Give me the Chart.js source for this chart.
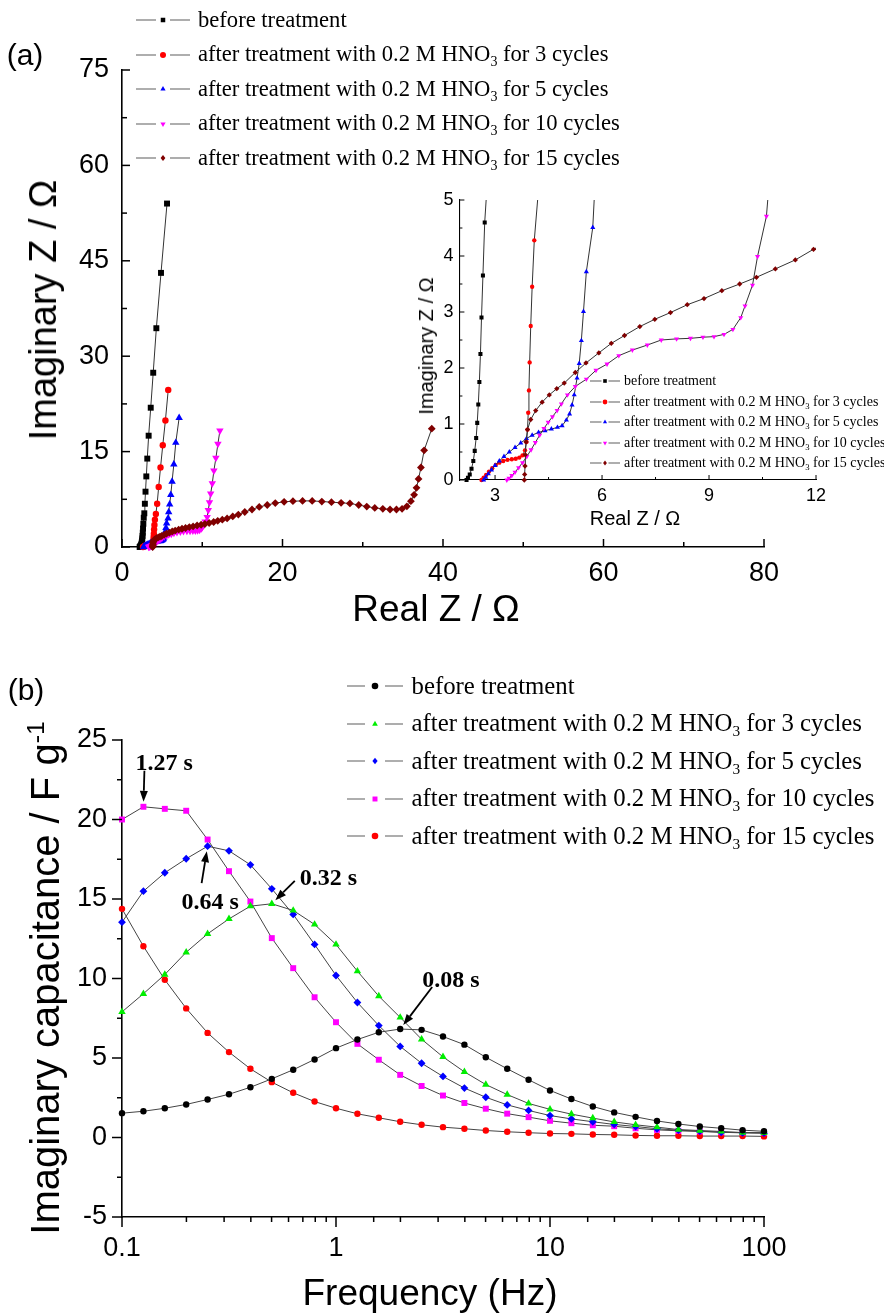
<!DOCTYPE html>
<html>
<head>
<meta charset="utf-8">
<title>HNO3 treatment: Nyquist plots and imaginary capacitance</title>
<script src="https://cdn.jsdelivr.net/npm/chart.js@4.4.1/dist/chart.umd.min.js"></script>
<style>
  html, body { margin: 0; padding: 0; background: #fff; }
  #page { position: relative; width: 884px; height: 1314px; overflow: hidden; background: #fff; }
  #page canvas { position: absolute; }
  .txt { position: absolute; white-space: nowrap; color: #000; line-height: 1; }
  .sans { font-family: "Liberation Sans", Arial, sans-serif; }
  .c { transform: translate(-50%, -50%); }
  .r { transform: translate(-50%, -50%) rotate(-90deg); }
  .lg { position: absolute; display: flex; align-items: center; white-space: nowrap;
        font-family: "Liberation Serif", "Times New Roman", serif; color: #000; line-height: 1; }
  .lg svg { flex: none; display: block; }
  sub { font-size: 0.62em; vertical-align: -0.34em; line-height: 0; }
  sup { font-size: 0.62em; vertical-align: 0.6em; line-height: 0; }
</style>
</head>
<body>
<div id="page">
  <canvas id="nyquist" width="884" height="650" style="left:0;top:0;width:884px;height:650px"></canvas>
  <canvas id="nyquistZoom" width="504" height="360" style="left:380px;top:180px;width:504px;height:360px"></canvas>
  <canvas id="capacitance" width="884" height="664" style="left:0;top:650px;width:884px;height:664px"></canvas>

  <div class="txt sans c" style="left:25px;top:55px;font-size:30px">(a)</div>
  <div class="txt sans r" style="left:43px;top:310px;font-size:38px">Imaginary Z / &#937;</div>
  <div class="txt sans c" style="left:436px;top:608px;font-size:37px">Real Z / &#937;</div>
  <div class="txt sans r" style="left:426px;top:346px;font-size:20px">Imaginary Z / &#937;</div>
  <div class="txt sans c" style="left:635px;top:518px;font-size:20px">Real Z / &#937;</div>

  <div class="txt sans c" style="left:26px;top:690px;font-size:30px">(b)</div>
  <div class="txt sans r" style="left:45px;top:978px;font-size:40px">Imaginary capacitance / F g<sup>-1</sup></div>
  <div class="txt sans c" style="left:430px;top:1292px;font-size:37px">Frequency (Hz)</div>
</div>

<script>
// ---------- Panel (a): Nyquist plots (Real Z / Ohm, Imaginary Z / Ohm) ----------
const labelsA = [
  'before treatment',
  'after treatment with 0.2 M HNO3 for 3 cycles',
  'after treatment with 0.2 M HNO3 for 5 cycles',
  'after treatment with 0.2 M HNO3 for 10 cycles',
  'after treatment with 0.2 M HNO3 for 15 cycles'
];

const realZ_before = [2.20, 2.24, 2.29, 2.34, 2.39, 2.43, 2.47, 2.50, 2.53, 2.56, 2.59, 2.62, 2.66, 2.71, 2.78, 2.85, 2.93, 3.03, 3.15, 3.32, 3.58, 3.89, 4.28, 4.86, 5.61];
const imagZ_before = [0.00, 0.04, 0.10, 0.20, 0.34, 0.52, 0.75, 1.02, 1.35, 1.75, 2.25, 2.90, 3.65, 4.60, 5.30, 6.80, 8.70, 11.1, 13.9, 17.5, 21.9, 27.4, 34.4, 43.1, 54.0];

const realZ_3cyc = [2.62, 2.68, 2.75, 2.83, 2.92, 3.02, 3.12, 3.23, 3.35, 3.47, 3.58, 3.68, 3.77, 3.84, 3.88, 3.91, 3.93, 3.95, 3.97, 4.00, 4.04, 4.10, 4.22, 4.38, 4.57, 4.80, 5.08, 5.41, 5.76];
const imagZ_3cyc = [0.00, 0.04, 0.09, 0.15, 0.21, 0.27, 0.31, 0.34, 0.36, 0.37, 0.38, 0.40, 0.44, 0.53, 0.68, 0.90, 1.20, 1.60, 2.10, 2.75, 3.45, 4.28, 5.20, 6.80, 9.45, 12.5, 16.0, 19.9, 24.7];

const realZ_5cyc = [2.68, 2.74, 2.81, 2.90, 3.00, 3.12, 3.25, 3.40, 3.56, 3.72, 3.88, 4.04, 4.22, 4.40, 4.58, 4.75, 4.88, 5.00, 5.09, 5.16, 5.22, 5.30, 5.36, 5.42, 5.48, 5.56, 5.74, 5.82, 5.94, 6.08, 6.24, 6.46, 6.70, 7.12];
const imagZ_5cyc = [0.00, 0.05, 0.11, 0.18, 0.26, 0.34, 0.42, 0.50, 0.58, 0.66, 0.74, 0.80, 0.85, 0.88, 0.91, 0.94, 0.97, 1.07, 1.18, 1.34, 1.52, 1.82, 2.08, 2.49, 3.01, 3.72, 4.51, 5.50, 6.70, 8.20, 10.3, 13.0, 16.4, 20.3];

const realZ_10cyc = [3.33, 3.39, 3.47, 3.56, 3.66, 3.77, 3.89, 4.01, 4.13, 4.25, 4.37, 4.49, 4.61, 4.74, 4.86, 5.03, 5.25, 5.56, 5.83, 6.14, 6.47, 6.85, 7.27, 7.66, 8.09, 8.48, 8.83, 9.14, 9.42, 9.67, 9.89, 10.01, 10.22, 10.36, 10.61, 10.75, 10.90, 11.05, 11.25, 11.45, 11.70, 11.95, 12.20];
const imagZ_10cyc = [0.00, 0.03, 0.08, 0.14, 0.22, 0.31, 0.42, 0.54, 0.67, 0.80, 0.92, 1.03, 1.13, 1.24, 1.36, 1.52, 1.67, 1.80, 1.96, 2.07, 2.22, 2.32, 2.41, 2.50, 2.52, 2.53, 2.55, 2.56, 2.60, 2.69, 2.90, 3.11, 3.48, 3.99, 4.71, 5.80, 7.00, 8.40, 10.0, 12.0, 14.0, 16.2, 18.3];

const realZ_15cyc = [3.82, 3.83, 3.84, 3.85, 3.87, 3.91, 4.00, 4.14, 4.32, 4.52, 4.73, 4.94, 5.25, 5.55, 5.91, 6.26, 6.63, 7.06, 7.48, 7.92, 8.39, 8.86, 9.36, 9.86, 10.33, 10.86, 11.42, 11.93, 12.50, 13.10, 13.80, 14.50, 15.30, 16.20, 17.10, 18.10, 19.10, 20.20, 21.30, 22.50, 23.70, 24.90, 26.10, 27.30, 28.40, 29.50, 30.50, 31.50, 32.50, 33.40, 34.20, 34.90, 35.50, 36.00, 36.40, 36.70, 36.95, 37.25, 37.65, 38.60];
const imagZ_15cyc = [0.00, 0.10, 0.25, 0.45, 0.68, 0.90, 1.08, 1.24, 1.39, 1.52, 1.63, 1.73, 1.92, 2.09, 2.27, 2.44, 2.58, 2.74, 2.87, 2.99, 3.13, 3.24, 3.38, 3.50, 3.62, 3.77, 3.93, 4.12, 4.30, 4.50, 4.80, 5.10, 5.50, 5.90, 6.30, 6.60, 6.90, 7.10, 7.20, 7.25, 7.25, 7.15, 7.05, 6.95, 6.85, 6.60, 6.35, 6.15, 6.00, 5.90, 5.90, 6.00, 6.40, 7.20, 8.20, 9.30, 10.7, 12.5, 15.2, 18.6];

const nyquistXTicks = [0, 20, 40, 60, 80];
const nyquistYTicks = [0, 15, 30, 45, 60, 75];
const zoomXTicks = [3, 6, 9, 12];
const zoomYTicks = [0, 1, 2, 3, 4, 5];

// ---------- Panel (b): imaginary capacitance vs frequency ----------
const labelsB = [
  'before treatment',
  'after treatment with 0.2 M HNO3 for 3 cycles',
  'after treatment with 0.2 M HNO3 for 5 cycles',
  'after treatment with 0.2 M HNO3 for 10 cycles',
  'after treatment with 0.2 M HNO3 for 15 cycles'
];
const freqHz = [0.1, 0.1259, 0.1585, 0.1995, 0.2512, 0.3162, 0.3981, 0.5012, 0.6310, 0.7943, 1, 1.259, 1.585, 1.995, 2.512, 3.162, 3.981, 5.012, 6.310, 7.943, 10, 12.59, 15.85, 19.95, 25.12, 31.62, 39.81, 50.12, 63.10, 79.43, 100];
const capBefore = [1.53, 1.65, 1.84, 2.08, 2.39, 2.72, 3.16, 3.69, 4.26, 4.91, 5.62, 6.16, 6.62, 6.82, 6.77, 6.35, 5.84, 5.05, 4.32, 3.63, 2.96, 2.42, 1.95, 1.58, 1.30, 1.04, 0.85, 0.69, 0.58, 0.46, 0.39];
const cap3cyc = [7.90, 9.04, 10.25, 11.65, 12.81, 13.75, 14.55, 14.70, 14.28, 13.40, 12.14, 10.46, 8.89, 7.55, 6.18, 5.07, 4.13, 3.33, 2.70, 2.14, 1.77, 1.47, 1.22, 0.98, 0.80, 0.65, 0.50, 0.44, 0.38, 0.31, 0.29];
const cap5cyc = [13.54, 15.49, 16.65, 17.53, 18.32, 18.03, 17.15, 15.64, 14.03, 12.14, 10.19, 8.49, 7.04, 5.73, 4.67, 3.84, 3.11, 2.53, 2.05, 1.70, 1.38, 1.17, 0.99, 0.82, 0.69, 0.55, 0.46, 0.40, 0.33, 0.29, 0.27];
const cap10cyc = [20.00, 20.80, 20.67, 20.55, 18.74, 16.75, 14.84, 12.54, 10.65, 8.82, 7.25, 5.89, 4.89, 3.94, 3.24, 2.64, 2.17, 1.81, 1.50, 1.28, 1.05, 0.90, 0.77, 0.71, 0.58, 0.48, 0.42, 0.38, 0.33, 0.31, 0.30];
const cap15cyc = [14.38, 12.03, 9.92, 8.12, 6.58, 5.37, 4.32, 3.48, 2.81, 2.26, 1.84, 1.49, 1.24, 0.99, 0.80, 0.65, 0.55, 0.44, 0.36, 0.30, 0.25, 0.23, 0.19, 0.17, 0.13, 0.11, 0.11, 0.09, 0.09, 0.09, 0.07];
const capYTicks = [-5, 0, 5, 10, 15, 20, 25];

// relaxation-time labels and the peak each arrow points at
const tauLabels = ['1.27 s', '0.64 s', '0.32 s', '0.08 s'];
const tauSeries = [3, 2, 1, 0];
const tauPeakIndex = [1, 4, 7, 13];

// ---------- drawing ----------
Chart.defaults.font.family = '"Liberation Sans", Arial, sans-serif';
Chart.defaults.color = '#000';

const SANS = '"Liberation Sans", Arial, sans-serif';
const LINE = '#333333';

const styleA = [
  { color: '#000000', shape: 'rect' },
  { color: '#ff0000', shape: 'circle' },
  { color: '#0000ff', shape: 'triangle' },
  { color: '#ff00ff', shape: 'triangleDown' },
  { color: '#800000', shape: 'rectRot' }
];
const styleB = [
  { color: '#000000', shape: 'circle' },
  { color: '#00ee00', shape: 'triangle' },
  { color: '#0000ff', shape: 'rectRot' },
  { color: '#ff00ff', shape: 'rect' },
  { color: '#ff0000', shape: 'circle' }
];

const seriesA = [
  [realZ_before, imagZ_before],
  [realZ_3cyc, imagZ_3cyc],
  [realZ_5cyc, imagZ_5cyc],
  [realZ_10cyc, imagZ_10cyc],
  [realZ_15cyc, imagZ_15cyc]
];
const seriesB = [capBefore, cap3cyc, cap5cyc, cap10cyc, cap15cyc];

function markerRadius(shape, k) {
  const base = { rect: 4.2, circle: 3.2, triangle: 4.3, triangleDown: 4.3, rectRot: 3.9 };
  return base[shape] * k;
}

function pointProps(st, k) {
  return {
    pointStyle: st.shape === 'triangleDown' ? 'triangle' : st.shape,
    pointRotation: st.shape === 'triangleDown' ? 180 : 0,
    pointRadius: markerRadius(st.shape, k),
    pointBackgroundColor: st.color,
    pointBorderColor: st.color,
    pointBorderWidth: 0,
    pointHoverRadius: markerRadius(st.shape, k)
  };
}

function nyquistDatasets(k) {
  return seriesA.map((s, i) => Object.assign({
    label: labelsA[i],
    data: s[0].map((x, j) => ({ x: x, y: s[1][j] })),
    showLine: true,
    borderColor: LINE,
    borderWidth: 1,
    order: 4 - i
  }, pointProps(styleA[i], k)));
}

// tick marks (major at scale ticks, minor between them), drawn in or out of the plot
const tickMarks = {
  id: 'tickMarks',
  afterDraw(chart, args, o) {
    const ctx = chart.ctx;
    const area = chart.chartArea;
    ctx.save();
    ctx.strokeStyle = '#000';
    ctx.lineWidth = o.width;
    Object.keys(o.axes).forEach(id => {
      const a = o.axes[id];
      const s = chart.scales[id];
      const sign = a.inward ? -1 : 1;
      const marks = [];
      const vals = s.ticks.map(t => t.value);
      if (s.type === 'logarithmic') {
        vals.forEach(v => {
          const e = Math.log10(v);
          marks.push([v, Math.abs(e - Math.round(e)) < 1e-6]);
        });
      } else {
        vals.forEach((v, i) => {
          marks.push([v, true]);
          if (i < vals.length - 1) marks.push([(v + vals[i + 1]) / 2, false]);
        });
      }
      marks.forEach(([v, major]) => {
        const p = s.getPixelForValue(v);
        const len = major ? a.len : a.minorLen;
        ctx.beginPath();
        if (s.isHorizontal()) {
          ctx.moveTo(p, area.bottom);
          ctx.lineTo(p, area.bottom + sign * len);
        } else {
          ctx.moveTo(area.left, p);
          ctx.lineTo(area.left - sign * len, p);
        }
        ctx.stroke();
      });
    });
    ctx.restore();
  }
};

function linearAxis(min, max, ticksArr, font, pad, fitKey, fitVal, borderW) {
  return {
    type: 'linear', min: min, max: max,
    afterBuildTicks: s => { s.ticks = ticksArr.map(v => ({ value: v })); },
    ticks: { font: { family: SANS, size: font }, color: '#000', padding: pad, autoSkip: false, maxRotation: 0 },
    grid: { display: true, drawOnChartArea: false, drawTicks: false },
    border: { display: true, color: '#000', width: borderW },
    afterFit: s => { s[fitKey] = fitVal; }
  };
}

// main Nyquist plot
new Chart(document.getElementById('nyquist'), {
  type: 'scatter',
  data: { datasets: nyquistDatasets(1) },
  options: {
    responsive: false, animation: false, devicePixelRatio: 1,
    layout: { padding: { left: 0, top: 70, right: 120, bottom: 0 } },
    datasets: { scatter: { clip: false } },
    plugins: {
      legend: { display: false }, tooltip: { enabled: false },
      tickMarks: { width: 1.5, axes: { x: { inward: true, len: 8, minorLen: 5 }, y: { inward: true, len: 8, minorLen: 5 } } }
    },
    scales: {
      x: linearAxis(0, 80, nyquistXTicks, 27, 10, 'height', 103, 1.6),
      y: linearAxis(0, 75, nyquistYTicks, 27, 13, 'width', 122, 1.6)
    }
  },
  plugins: [tickMarks]
});

// high-frequency region of the same data
new Chart(document.getElementById('nyquistZoom'), {
  type: 'scatter',
  data: { datasets: nyquistDatasets(0.68) },
  options: {
    responsive: false, animation: false, devicePixelRatio: 1,
    layout: { padding: { left: 0, top: 20, right: 68, bottom: 0 } },
    datasets: { scatter: { clip: { left: 0, top: 0, right: 0, bottom: 4 } } },
    plugins: {
      legend: { display: false }, tooltip: { enabled: false },
      tickMarks: { width: 1, axes: { x: { inward: true, len: 5, minorLen: 3 }, y: { inward: true, len: 5, minorLen: 3 } } }
    },
    scales: {
      x: linearAxis(2, 12, zoomXTicks, 18, 5, 'height', 60, 1.1),
      y: linearAxis(0, 5, zoomYTicks, 18, 6, 'width', 79.4, 1.1)
    }
  },
  plugins: [tickMarks]
});

// arrows with relaxation-time labels
const tauArrows = {
  id: 'tauArrows',
  afterDatasetsDraw(chart, args, o) {
    const ctx = chart.ctx;
    ctx.save();
    ctx.fillStyle = '#000';
    ctx.strokeStyle = '#000';
    ctx.lineWidth = 1.8;
    tauLabels.forEach((txt, i) => {
      const pt = chart.getDatasetMeta(tauSeries[i]).data[tauPeakIndex[i]];
      const g = o.geometry[i];
      const tx = pt.x + g.tail[0], ty = pt.y + g.tail[1];
      const dx = pt.x - tx, dy = pt.y - ty, L = Math.hypot(dx, dy);
      const ux = dx / L, uy = dy / L;
      const hx = pt.x - ux * o.stop, hy = pt.y - uy * o.stop;
      const bx = hx - ux * o.head, by = hy - uy * o.head;
      ctx.beginPath(); ctx.moveTo(tx, ty); ctx.lineTo(bx, by); ctx.stroke();
      ctx.beginPath();
      ctx.moveTo(hx, hy);
      ctx.lineTo(bx - uy * o.half, by + ux * o.half);
      ctx.lineTo(bx + uy * o.half, by - ux * o.half);
      ctx.closePath(); ctx.fill();
      ctx.font = 'bold 24px "Liberation Serif", "Times New Roman", serif';
      ctx.textAlign = 'left';
      ctx.textBaseline = 'middle';
      ctx.fillText(txt, pt.x + g.label[0], pt.y + g.label[1]);
    });
    ctx.restore();
  }
};

new Chart(document.getElementById('capacitance'), {
  type: 'scatter',
  data: {
    datasets: seriesB.map((vals, i) => Object.assign({
      label: labelsB[i],
      data: freqHz.map((f, j) => ({ x: f, y: vals[j] })),
      showLine: true,
      borderColor: '#444444',
      borderWidth: 1
    }, pointProps(styleB[i], 1)))
  },
  options: {
    responsive: false, animation: false, devicePixelRatio: 1,
    layout: { padding: { left: 0, top: 90, right: 120, bottom: 0 } },
    datasets: { scatter: { clip: false } },
    plugins: {
      legend: { display: false }, tooltip: { enabled: false },
      tickMarks: { width: 1.5, axes: { x: { inward: false, len: 10, minorLen: 5 }, y: { inward: false, len: 10, minorLen: 5 } } },
      tauArrows: {
        stop: 5, head: 11, half: 4,
        geometry: [
          { tail: [1, -36], label: [-8, -43] },
          { tail: [-6, 37], label: [-26, 57] },
          { tail: [23, -23], label: [28, -25] },
          { tail: [32, -42], label: [22, -48] }
        ]
      }
    },
    scales: {
      x: {
        type: 'logarithmic', min: 0.1, max: 100,
        ticks: {
          font: { family: SANS, size: 27 }, color: '#000', padding: 15, autoSkip: false, maxRotation: 0,
          callback: v => {
            const e = Math.log10(v);
            return Math.abs(e - Math.round(e)) < 1e-6 ? String(+v.toPrecision(6)) : '';
          }
        },
        grid: { display: true, drawOnChartArea: false, drawTicks: false },
        border: { display: true, color: '#000', width: 1.6 },
        afterFit: s => { s.height = 97; }
      },
      y: linearAxis(-5, 25, capYTicks, 27, 15, 'width', 122, 1.6)
    }
  },
  plugins: [tickMarks, tauArrows]
});

// ---------- legends (HTML so HNO3 can carry a subscript) ----------
function markerSVG(shape, color, cx, cy, r) {
  const f = 'fill="' + color + '"';
  if (shape === 'circle') return '<circle cx="' + cx + '" cy="' + cy + '" r="' + r + '" ' + f + '/>';
  if (shape === 'rect') { const s = r * 0.75; return '<rect x="' + (cx - s) + '" y="' + (cy - s) + '" width="' + 2 * s + '" height="' + 2 * s + '" ' + f + '/>'; }
  let pts;
  if (shape === 'triangle') pts = [[cx, cy - r], [cx + 0.866 * r, cy + 0.5 * r], [cx - 0.866 * r, cy + 0.5 * r]];
  else if (shape === 'triangleDown') pts = [[cx, cy + r], [cx + 0.866 * r, cy - 0.5 * r], [cx - 0.866 * r, cy - 0.5 * r]];
  else pts = [[cx, cy - r], [cx + r * 0.8, cy], [cx, cy + r], [cx - r * 0.8, cy]];
  return '<polygon points="' + pts.map(p => p.join(',')).join(' ') + '" ' + f + '/>';
}

function buildLegend(labels, styles, o) {
  const page = document.getElementById('page');
  labels.forEach((lab, i) => {
    const h = 16;
    const mid = o.width / 2;
    const svg = '<svg width="' + o.width + '" height="' + h + '" viewBox="0 0 ' + o.width + ' ' + h + '">' +
      '<line x1="0" y1="' + h / 2 + '" x2="' + (mid - o.gap) + '" y2="' + h / 2 + '" stroke="#777" stroke-width="1.2"/>' +
      '<line x1="' + (mid + o.gap) + '" y1="' + h / 2 + '" x2="' + o.width + '" y2="' + h / 2 + '" stroke="#777" stroke-width="1.2"/>' +
      markerSVG(styles[i].shape, styles[i].color, mid, h / 2, o.r) + '</svg>';
    const div = document.createElement('div');
    div.className = 'lg';
    div.style.left = o.left + 'px';
    div.style.top = (o.top + i * o.step - 20) + 'px';
    div.style.height = '40px';
    div.style.fontSize = o.font + 'px';
    div.innerHTML = svg + '<span style="margin-left:' + o.textGap + 'px">' + lab.replace('HNO3', 'HNO<sub>3</sub>') + '</span>';
    page.appendChild(div);
  });
}

buildLegend(labelsA, styleA, { left: 136, top: 20, step: 34.5, width: 54, gap: 7, r: 3, font: 22.6, textGap: 8 });
buildLegend(labelsA, styleA, { left: 590, top: 381, step: 20.5, width: 30, gap: 3.5, r: 2.4, font: 14, textGap: 4 });
buildLegend(labelsB, styleB, { left: 347, top: 686, step: 37.5, width: 56, gap: 10, r: 3.3, font: 24.8, textGap: 8.5 });
</script>
</body>
</html>
